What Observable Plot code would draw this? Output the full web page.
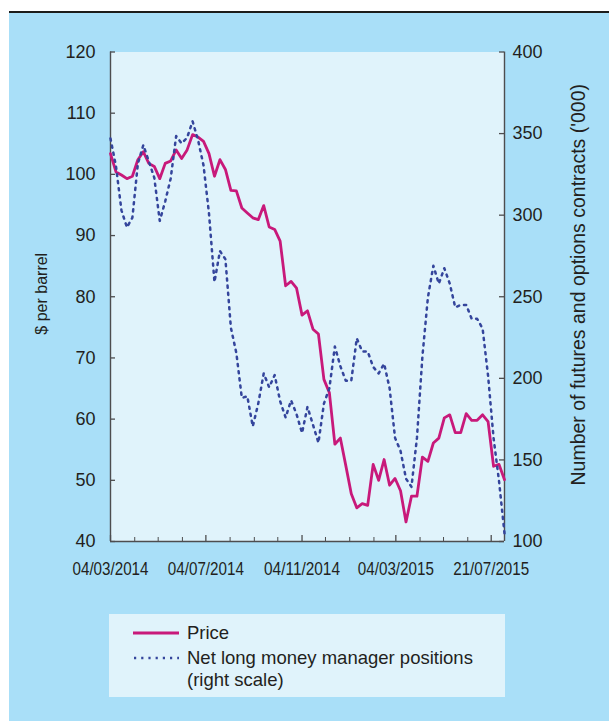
<!DOCTYPE html>
<html>
<head>
<meta charset="utf-8">
<script src="https://cdn.jsdelivr.net/npm/d3@7"></script>
<script src="https://cdn.jsdelivr.net/npm/@observablehq/plot@0.6"></script>
<style>
html,body{margin:0;padding:0;background:#fff;}
body{width:609px;height:721px;position:relative;overflow:hidden;font-family:"Liberation Sans",Arial,sans-serif;color:#231f20;}
#rule{position:absolute;left:9px;top:11px;width:600px;height:2px;background:#1d1d1b;}
#panel{position:absolute;left:9px;top:13px;width:600px;height:708px;background:#a9dff8;}
#chart{position:absolute;left:0;top:0;}
#legend{position:absolute;left:109px;top:614px;width:396px;height:83px;background:#e0f3fb;font-size:18.5px;line-height:22px;}
.sample{position:absolute;left:24px;width:46px;height:6px;}
.ltext{position:absolute;left:78px;white-space:nowrap;}
</style>
</head>
<body>
<div id="rule"></div>
<div id="panel"></div>
<div id="chart"></div>
<div id="legend">
  <svg class="sample" style="top:16px" width="46" height="6"><line x1="0" x2="46" y1="3" y2="3" stroke="#c8197a" stroke-width="2.8"/></svg>
  <div class="ltext" style="top:8px">Price</div>
  <svg class="sample" style="top:41px" width="46" height="6"><line x1="1" x2="46" y1="3" y2="3" stroke="#34459c" stroke-width="2.5" stroke-dasharray="2.2,5"/></svg>
  <div class="ltext" style="top:33px">Net long money manager positions<br>(right scale)</div>
</div>
<script>
const firstWeek = "2014-03-04";
const priceValues = [103.4,100.4,99.9,99.3,99.7,102.4,103.7,101.8,101.3,99.3,101.8,102.2,104.0,102.6,104.0,106.5,106.1,105.4,103.4,99.7,102.4,100.8,97.4,97.3,94.5,93.7,92.9,92.6,94.9,91.4,91.0,89.1,81.8,82.5,81.4,77.0,77.7,74.7,73.9,66.5,64.3,55.9,56.9,52.4,47.8,45.5,46.2,45.9,52.6,50.0,53.4,49.2,50.3,48.3,43.2,47.4,47.4,53.8,53.1,56.1,56.9,60.2,60.7,57.8,57.8,60.9,59.8,59.8,60.7,59.6,52.3,52.6,50.1];
const positionValues = [347,330,303,292.5,298.5,331.5,343,333,323,296.5,308.5,322.5,348.5,344,347.5,357.5,346,330.5,301,259,278,273,231,215.5,188,189,170.5,184.5,203,194.5,202,186,176,186.5,178,166.5,182.5,171.5,160.5,184.5,194,219.5,207.5,198.5,198.5,224.5,216.5,216.5,207,203,209,194,163.5,155.5,138.5,133.5,163.5,213.5,249.5,269,258,267.5,258,243.5,245,245,236.5,236.5,230.5,201.5,163.5,137,105];
const leftTicks = [40,50,60,70,80,90,100,110,120];
const rightTicks = [100,150,200,250,300,350,400];
const majorTickDates = ["2014-03-04","2014-07-04","2014-11-04","2015-03-04","2015-07-04"];
const tickLabels = ["04/03/2014","04/07/2014","04/11/2014","04/03/2015","21/07/2015"];
const leftTitle = "$ per barrel";
const rightTitle = "Number of futures and options contracts ('000)";

// ---- build ----
const parse = d3.utcParse("%Y-%m-%d");
const start = parse(firstWeek);
const dates = priceValues.map((_, i) => d3.utcDay.offset(start, 7 * i));
const data = dates.map((date, i) => ({date, price: priceValues[i], positions: positionValues[i]}));
const majors = majorTickDates.map(parse);
const minors = d3.utcMonth.range(parse("2014-04-01"), parse("2015-07-02"))
  .map(d => d3.utcDay.offset(d, 3))
  .filter(d => !majors.some(m => +m === +d));

const toLeft = v => 40 + (v - 100) * 80 / 300;
const fromLeft = v => Math.round(100 + (v - 40) * 300 / 80);

const W = 609, H = 600, mL = 110, mR = 105, mT = 51.5, mB = 59;
const plotW = W - mL - mR, plotH = H - mT - mB;
const axisColor = "#4d4d4f";
const priceColor = "#c8197a";
const posColor = "#34459c";

const chart = Plot.plot({
  width: W, height: H,
  marginLeft: mL, marginRight: mR, marginTop: mT, marginBottom: mB,
  style: {background: "transparent", fontFamily: "'Liberation Sans', Arial, sans-serif", fontSize: "18px", color: "#231f20"},
  x: {type: "utc", domain: [dates[0], dates[dates.length - 1]]},
  y: {domain: [40, 120]},
  marks: [
    Plot.frame({fill: "#e0f3fb", stroke: null}),
    // inward tick marks
    Plot.tickY(leftTicks, {y: d => d, insetRight: plotW - 5, stroke: axisColor, strokeWidth: 1.3}),
    Plot.tickY(rightTicks.map(toLeft), {y: d => d, insetLeft: plotW - 5, stroke: axisColor, strokeWidth: 1.3}),
    Plot.tickX(majors, {x: d => d, insetTop: plotH - 6, stroke: axisColor, strokeWidth: 1.3}),
    Plot.tickX(minors, {x: d => d, insetTop: plotH - 4, stroke: axisColor, strokeWidth: 1}),
    // axis lines
    Plot.ruleX([dates[0]], {stroke: axisColor, strokeWidth: 1.4}),
    Plot.ruleX([dates[dates.length - 1]], {stroke: axisColor, strokeWidth: 1.4}),
    Plot.ruleY([40], {stroke: axisColor, strokeWidth: 1.4}),
    // tick labels
    Plot.axisY(leftTicks, {anchor: "left", tickSize: 0, tickPadding: 15, label: null, fontSize: 18}),
    Plot.axisY(rightTicks.map(toLeft), {anchor: "right", tickSize: 0, tickPadding: 8, label: null, fontSize: 18, tickFormat: d => String(fromLeft(d))}),
    Plot.axisX(majors, {anchor: "bottom", tickSize: 0, tickPadding: 21, label: null, fontSize: 18,
      tickFormat: d => tickLabels[majors.findIndex(m => +m === +d)]}),
    // axis titles
    Plot.text([leftTitle], {text: d => d, frameAnchor: "left", textAnchor: "middle", dx: -69, dy: -3, rotate: -90, fontSize: 16}),
    Plot.text([rightTitle], {text: d => d, frameAnchor: "right", textAnchor: "middle", dx: 74, dy: -12, rotate: -90, fontSize: 19.5}),
    // series
    Plot.line(data, {x: "date", y: "price", stroke: priceColor, strokeWidth: 2.8, strokeLinejoin: "round"}),
    Plot.line(data, {x: "date", y: d => toLeft(d.positions), stroke: posColor, strokeWidth: 2.5, strokeDasharray: "2.2,5", curve: "linear"})
  ]
});
chart.querySelectorAll('g[aria-label="x-axis tick label"] text').forEach(t => {
  t.setAttribute("textLength", "76");
  t.setAttribute("lengthAdjust", "spacingAndGlyphs");
});
document.getElementById("chart").appendChild(chart);
</script>
</body>
</html>
